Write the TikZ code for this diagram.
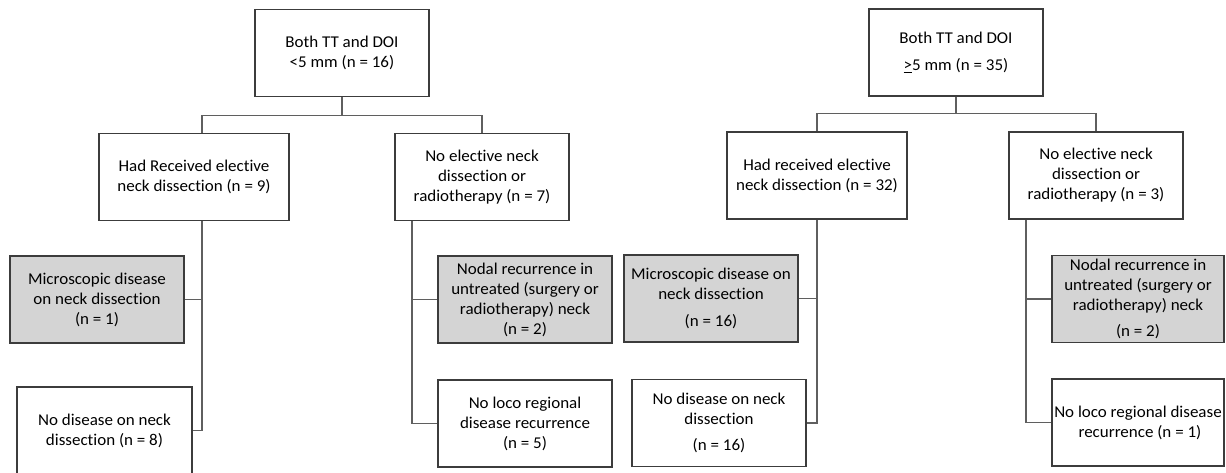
\documentclass[tikz,border=0pt]{standalone}
\usepackage{fontspec}
\setmainfont{Carlito}[FakeStretch=1.03,Ligatures=NoCommon]
\definecolor{boxline}{RGB}{60,60,60}
\definecolor{linkline}{RGB}{95,95,95}
\definecolor{shade}{RGB}{212,212,212}

\begin{document}
\begin{tikzpicture}[x=1pt,y=-1pt,
  box/.style={draw=boxline,line width=1.1pt,fill=white,align=center,inner sep=0pt,
    minimum width=174pt,minimum height=87pt,font=\fontsize{16.5}{20}\selectfont},
  shaded/.style={box,fill=shade},
  link/.style={draw=linkline,line width=1.1pt}]
  \useasboundingbox (0,0) rectangle (1226,472);

  \node[box] (topA) at (342,53) {Both TT and DOI\\<5 mm (n = 16)};
  \node[box,minimum width=190pt] (recA) at (194,177) {Had Received elective\\neck dissection (n = 9)};
  \node[box] (noA) at (482,177) {No elective neck\\dissection or\\radiotherapy (n = 7)};
  \node[shaded] (microA) at (97,299.5) {Microscopic disease\\on neck dissection\\(n = 1)};
  \node[box,minimum width=175pt] (nodisA) at (104.5,430.5) {No disease on neck\\dissection (n = 8)};
  \node[shaded] (nodalA) at (525,299.5) {Nodal recurrence in\\untreated (surgery or\\radiotherapy) neck\\(n = 2)};
  \node[box] (locoA) at (525,423.5) {No loco regional\\disease recurrence\\(n = 5)};

  \node[box] (topB) at (956,52.5) {Both TT and DOI\\[7pt]\underline{>}5 mm (n = 35)};
  \node[box,minimum width=180pt] (recB) at (817,175.5) {Had received elective\\neck dissection (n = 32)};
  \node[box] (noB) at (1096,175.5) {No elective neck\\dissection or\\radiotherapy (n = 3)};
  \node[shaded] (microB) at (711,298.5) {Microscopic disease on\\neck dissection\\[7pt](n = 16)};
  \node[box] (nodisB) at (719,423) {No disease on neck\\dissection\\[6pt](n = 16)};
  \node[shaded,minimum width=172pt] (nodalB) at (1138,299) {Nodal recurrence in\\untreated (surgery or\\radiotherapy) neck\\[6pt](n = 2)};
  \node[box,minimum width=172pt] (locoB) at (1138,422.5) {No loco regional disease\\\ recurrence (n = 1)};

  \coordinate (spineA) at ([xshift=8pt]recA.south);
  \coordinate (spineNA) at ([xshift=-70pt]noA.south);
  \coordinate (spineNB) at ([xshift=-70pt]noB.south);

  \draw[link] (topA.south) -- ++(0,18) -| (spineA |- recA.north);
  \draw[link] (topA.south) -- ++(0,18) -| (noA.north);
  \draw[link] (spineA) |- (nodisA.east);
  \draw[link] (microA.east) -- (microA.east -| spineA);
  \draw[link] (spineNA) |- (locoA.west);
  \draw[link] (nodalA.west) -- (nodalA.west -| spineNA);

  \draw[link] (topB.south) -- ++(0,17) -| (recB.north);
  \draw[link] (topB.south) -- ++(0,17) -| (noB.north);
  \draw[link] (recB.south) |- (nodisB.east);
  \draw[link] (microB.east) -- (microB.east -| recB.south);
  \draw[link] (spineNB) |- (locoB.west);
  \draw[link] (nodalB.west) -- (nodalB.west -| spineNB);
\end{tikzpicture}
\end{document}
